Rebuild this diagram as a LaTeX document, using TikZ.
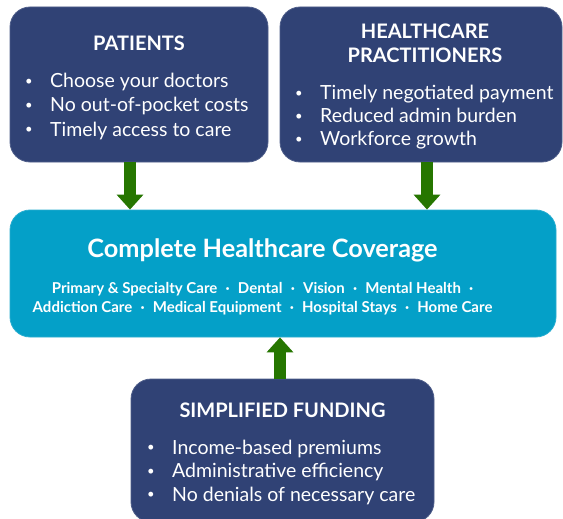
\documentclass[tikz,border=0pt]{standalone}
\usepackage{fontspec}
\setmainfont{Lato}
\usetikzlibrary{arrows.meta}
\definecolor{navy}{RGB}{48,66,117}
\definecolor{teal}{RGB}{4,160,200}
\definecolor{agreen}{RGB}{38,118,0}
\tikzset{
  navybox/.style={draw=navy!85!white, line width=0.8pt, fill=navy, rounded corners=20pt, inner sep=0pt},
  tealbox/.style={draw=teal!85!white, line width=0.8pt, fill=teal, rounded corners=20pt, inner sep=0pt},
  ttl/.style={text=white, inner sep=0pt, anchor=base, font=\fontsize{20}{24}\selectfont\bfseries},
  itm/.style={text=white, inner sep=0pt, anchor=base west, font=\fontsize{19.5}{24}\selectfont},
  bul/.style={text=white, inner sep=0pt, anchor=base, font=\fontsize{13}{15}\selectfont, yshift=2.2pt},
  sub/.style={text=white, inner sep=0pt, anchor=base, font=\fontsize{15}{18}\selectfont\bfseries},
  blockarrow/.style={draw=agreen, line width=12pt, -{Triangle[width=26pt,length=15pt]}}
}
\newcommand{\sep}{\hspace{8.2pt}·\hspace{8.2pt}}
\begin{document}
\begin{tikzpicture}[x=1pt,y=-1pt]
\useasboundingbox (0,0) rectangle (563,519);
\fill[white] (0,0) rectangle (563,519);
% boxes
\node[navybox, minimum width=258pt, minimum height=155pt] (pat) at (139,84.5) {};
\node[navybox, minimum width=282pt, minimum height=155pt] (prac) at (421,84.5) {};
\node[tealbox, minimum width=546pt, minimum height=127pt] (cov) at (283,273.5) {};
\node[navybox, minimum width=303pt, minimum height=143pt] (fund) at (282.5,450.5) {};
% arrows
\coordinate (a1) at (130,0);
\coordinate (a2) at (427,0);
\coordinate (a3) at (280,0);
\draw[blockarrow] (pat.south -| a1) -- (cov.north -| a1);
\draw[blockarrow] (prac.south -| a2) -- (cov.north -| a2);
\draw[blockarrow] (fund.north -| a3) -- (cov.south -| a3);
% patients
\node[ttl] (patt) at (139,50.5) {PATIENTS};
\node[bul] (pb1) at (29,88) {•};
\node[bul] (pb2) at (29,112) {•};
\node[bul] (pb3) at (29,136) {•};
\node[itm] (pi1) at (50,88) {Choose your doctors};
\node[itm] (pi2) at (50,112) {No out-of-pocket costs};
\node[itm] (pi3) at (50,136) {Timely access to care};
% practitioners
\node[ttl] (prt1) at (425,39) {HEALTHCARE};
\node[ttl] (prt2) at (425,62.7) {PRACTITIONERS};
\node[bul] (rb1) at (299,99.5) {•};
\node[bul] (rb2) at (299,123) {•};
\node[bul] (rb3) at (299,146) {•};
\node[itm] (ri1) at (320,99.5) {Timely negotiated payment};
\node[itm] (ri2) at (320,123) {Reduced admin burden};
\node[itm] (ri3) at (320,146) {Workforce growth};
% coverage
\node[ttl, font=\fontsize{25.3}{30}\selectfont\bfseries] (covt) at (262.5,257.3) {Complete Healthcare Coverage};
\node[sub] (cs1) at (262.5,293) {Primary \& Specialty Care\sep Dental\sep Vision\sep Mental Health\hspace{8.2pt}·};
\node[sub] (cs2) at (262.5,312) {Addiction Care\sep Medical Equipment\sep Hospital Stays\sep Home Care};
% funding
\node[ttl] (fdt) at (282.5,417.3) {SIMPLIFIED FUNDING};
\node[bul] (fb1) at (151,454) {•};
\node[bul] (fb2) at (151,477.7) {•};
\node[bul] (fb3) at (151,501) {•};
\node[itm] (fi1) at (172,454) {Income-based premiums};
\node[itm] (fi2) at (172,477.7) {Administrative efficiency};
\node[itm] (fi3) at (172,501) {No denials of necessary care};
\end{tikzpicture}
\end{document}
